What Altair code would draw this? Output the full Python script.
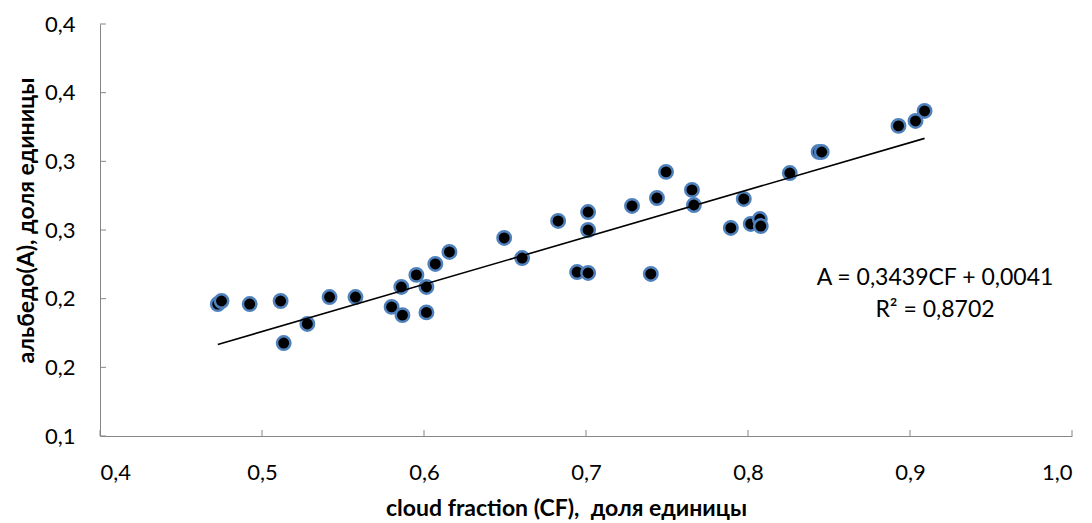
import altair as alt
import pandas as pd

# Scatter data: cloud fraction (CF) vs albedo (A)
cf = [0.4727, 0.4750, 0.4924, 0.5115, 0.5134, 0.5280, 0.5417, 0.5577, 0.5800, 0.5860,
      0.5867, 0.5953, 0.6015, 0.6015, 0.6070, 0.6157, 0.6495, 0.6606, 0.6828, 0.6945,
      0.7013, 0.7013, 0.7013, 0.7284, 0.7400, 0.7438, 0.7494, 0.7654, 0.7666, 0.7894,
      0.7974, 0.8017, 0.8073, 0.8079, 0.8258, 0.8436, 0.8455, 0.8929, 0.9034, 0.9090]
albedo = [0.1961, 0.1983, 0.1961, 0.1983, 0.1677, 0.1816, 0.2012, 0.2012, 0.1940, 0.2085,
          0.1880, 0.2173, 0.2085, 0.1900, 0.2253, 0.2340, 0.2442, 0.2296, 0.2566, 0.2194,
          0.2631, 0.2500, 0.2187, 0.2675, 0.2180, 0.2733, 0.2923, 0.2792, 0.2682, 0.2515,
          0.2726, 0.2544, 0.2580, 0.2529, 0.2915, 0.3068, 0.3068, 0.3258, 0.3294, 0.3367]

# Linear trend (from the chart's equation)
slope = 0.3439
intercept = 0.0041
eq_text = "A = 0,3439CF + 0,0041"
r2_text = "R² = 0,8702"

x_ticks = [0.4, 0.5, 0.6, 0.7, 0.8, 0.9, 1.0]
x_labels = ["0,4", "0,5", "0,6", "0,7", "0,8", "0,9", "1,0"]
y_ticks = [0.10, 0.15, 0.20, 0.25, 0.30, 0.35, 0.40]
y_labels = ["0,1", "0,2", "0,2", "0,3", "0,3", "0,4", "0,4"]

x_title = "cloud fraction (CF),\u00a0 доля единицы"
y_title = "альбедо(А), доля единицы"

W, H = 972, 412
FONT = "Lato"

pts = pd.DataFrame({"cf": cf, "a": albedo})
xmin, xmax = min(cf), max(cf)
trend = pd.DataFrame({"cf": [xmin, xmax], "a": [slope * xmin + intercept, slope * xmax + intercept]})
xt = pd.DataFrame({"v": x_ticks})
yt = pd.DataFrame({"v": y_ticks})

def arr(labels):
    return "[" + ",".join("'" + s + "'" for s in labels) + "]"

x_expr = arr(x_labels) + "[round((datum.value-0.4)/0.1)]"
y_expr = arr(y_labels) + "[round((datum.value-0.1)/0.05)]"

xscale = alt.Scale(domain=[0.4, 1.0], nice=False, zero=False)
yscale = alt.Scale(domain=[0.1, 0.4], nice=False, zero=False)

x_axis = alt.Axis(values=x_ticks, labelExpr=x_expr, ticks=False, grid=False,
                  domainColor="#868686", labelFontSize=22, labelFont=FONT, labelColor="#000000",
                  labelPadding=26, title=x_title, titleFont=FONT, titleFontSize=23,
                  titleFontWeight="bold", titleColor="#000000", titleX=466, titleY=79,
                  titleBaseline="alphabetic", titleAnchor="start", titleAlign="center")
y_axis = alt.Axis(values=y_ticks, labelExpr=y_expr, ticks=False, grid=False,
                  domainColor="#868686", labelFontSize=22, labelFont=FONT, labelColor="#000000",
                  labelPadding=25, title=y_title, titleFont=FONT, titleFontSize=23,
                  titleFontWeight="bold", titleColor="#000000", titleX=-67, titleY=196,
                  titleBaseline="alphabetic", titleAnchor="start", titleAlign="center", titleAngle=270)

base_x = alt.X("cf:Q", scale=xscale, axis=x_axis)
base_y = alt.Y("a:Q", scale=yscale, axis=y_axis)

points = alt.Chart(pts).mark_circle(size=180, color="#000000", opacity=1,
                                    stroke="#4f81bd", strokeWidth=2.5).encode(x=base_x, y=base_y)

line = alt.Chart(trend).mark_line(color="#000000", strokeWidth=1.6).encode(
    x=alt.X("cf:Q", scale=xscale), y=alt.Y("a:Q", scale=yscale))

xticks = alt.Chart(xt).mark_rule(color="#868686", strokeWidth=1).encode(
    x=alt.X("v:Q", scale=xscale), y=alt.value(H), y2=alt.value(H - 6))
yticks = alt.Chart(yt).mark_rule(color="#868686", strokeWidth=1).encode(
    y=alt.Y("v:Q", scale=yscale), x=alt.value(0), x2=alt.value(6))

eq = alt.Chart(pd.DataFrame({"t": [eq_text]})).mark_text(
    font=FONT, fontSize=23, color="#000000", align="center", baseline="alphabetic").encode(
    text="t:N", x=alt.value(835), y=alt.value(261))
r2 = alt.Chart(pd.DataFrame({"t": [r2_text]})).mark_text(
    font=FONT, fontSize=23, color="#000000", align="center", baseline="alphabetic").encode(
    text="t:N", x=alt.value(835), y=alt.value(293))

chart = alt.layer(points, line, xticks, yticks, eq, r2).properties(
    width=W, height=H,
    autosize=alt.AutoSizeParams(type="none"),
    padding={"left": 92, "top": 16, "right": 12, "bottom": 95},
    background="#ffffff",
).configure_view(stroke=None)

chart.save("out.html", embed_options={"renderer": "svg", "actions": False})
